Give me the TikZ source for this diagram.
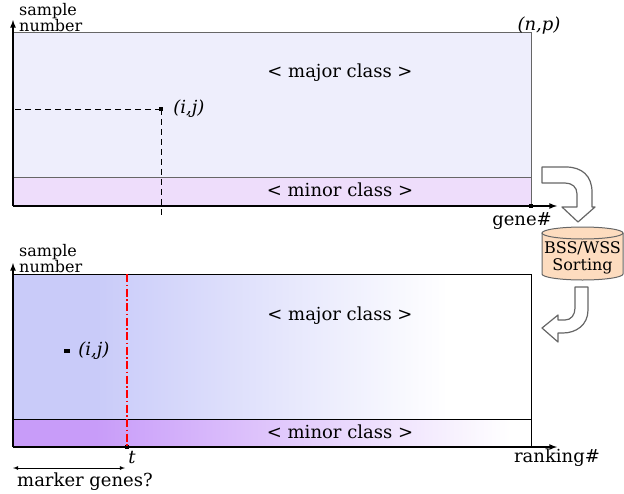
\documentclass[tikz,border=0pt]{standalone}
\usepackage{fontspec}
\setmainfont{DejaVu Serif}
\usepackage{tikz}
\usetikzlibrary{positioning,calc}
\definecolor{majorfill}{HTML}{EEEEFC}
\definecolor{minorfill}{HTML}{EEDDFB}
\definecolor{majorleft}{HTML}{C9CBF9}
\definecolor{minorleft}{HTML}{C89CF9}
\definecolor{panelgray}{HTML}{666666}
\definecolor{peach}{HTML}{FDDCBF}
\definecolor{cutred}{HTML}{FF0000}
\pgfdeclarehorizontalshading{majorfade}{100bp}{color(0bp)=(majorleft); color(33bp)=(majorleft); color(67bp)=(white); color(100bp)=(white)}
\pgfdeclarehorizontalshading{minorfade}{100bp}{color(0bp)=(minorleft); color(33bp)=(minorleft); color(73bp)=(white); color(100bp)=(white)}

\begin{document}
\begin{tikzpicture}[
    x=1pt, y=-1pt,
    lbl/.style={font=\fontsize{18}{17}\selectfont, inner sep=0pt},
    small/.style={font=\fontsize{16}{12}\selectfont, inner sep=0pt},
    panel/.style={rectangle, minimum width=518pt, inner sep=0pt, outer sep=0pt},
    axisline/.style={->, >=latex, line width=1.6pt},
    guide/.style={dash pattern=on 6pt off 4pt, line width=0.8pt},
    cutline/.style={draw=cutred, line width=1.1pt, dash pattern=on 8pt off 2.5pt on 1.5pt off 2.5pt},
    dot/.style={rectangle, fill=black, inner sep=0pt, minimum width=4pt, minimum height=4pt},
    blockarrow/.style={fill=white, draw=gray!80!black, line width=1.2pt, line join=round}
]
    \useasboundingbox (0,0) rectangle (624,493);

    \node[panel, minimum height=145pt, fill=majorfill, draw=panelgray, line width=1pt] (major1) at (272,104.5) {};
    \node[panel, minimum height=29pt, fill=minorfill, draw=panelgray, line width=1pt] (minor1) at (272,191.5) {};
    \node[lbl, anchor=base] (maj1) at (340,77) {< major class >};
    \node[lbl, anchor=base] (min1) at (340,196) {< minor class >};

    \node[dot] (pij1) at (161,109) {};
    \node[lbl, right=10pt of pij1] (ij1) {\textit{(i,j)}};
    \coordinate (d1) at (161,217);
    \draw[guide] (pij1.center) -- (pij1 -| major1.west);
    \draw[guide] (pij1.center) -- (d1);

    \coordinate (ytip1) at (13,20);
    \coordinate (xtip1) at (557,206);
    \draw[axisline] (minor1.south west) -- (ytip1);
    \draw[axisline] (minor1.south west) -- (xtip1);
    \node[dot] (np) at (minor1.south east) {};
    \node[small, anchor=base west] (ylab1) at (19,15) {sample};
    \node[small, anchor=base west] (ylab1b) at (19,31) {number};
    \node[lbl, anchor=base] (npl) at (539,30) {\textit{(n,p)}};
    \node[lbl, anchor=base] (gene) at (522,225) {gene\#};

    \draw[blockarrow] (542,167) -- (566,167) .. controls (582,167) and (592,176) .. (592,192)
        -- (592,207) -- (595,207) -- (578,222) -- (562,207) -- (577,207) -- (577,194)
        .. controls (577,187) and (572,183) .. (565,183) -- (542,183) -- cycle;

    \fill[peach] (542,233) -- (542,274) arc[start angle=180, end angle=0, x radius=40.5, y radius=6] -- (623,233) -- cycle;
    \draw[gray!80!black, line width=1pt] (542,233) -- (542,274) arc[start angle=180, end angle=0, x radius=40.5, y radius=6] -- (623,233);
    \draw[gray!80!black, line width=1pt, fill=peach] (582.5,233) ellipse [x radius=40.5, y radius=6];
    \node[lbl, font=\fontsize{16}{17}\selectfont, align=center] (sort) at (582.5,258) {BSS/WSS\\Sorting};

    \draw[blockarrow] (575,287) -- (588,287) -- (588,310) .. controls (588,325) and (576,333) .. (563,333)
        -- (558,333) -- (558,342) -- (542,328) -- (558,315) -- (558,320) -- (565,320)
        .. controls (571,320) and (575,315) .. (575,308) -- cycle;

    \node[panel, minimum height=145pt, shade, shading=majorfade, draw=black, line width=0.8pt] (major2) at (272,346.5) {};
    \node[panel, minimum height=28pt, shade, shading=minorfade, draw=black, line width=0.8pt] (minor2) at (272,433) {};
    \node[lbl, anchor=base] (maj2) at (340,320) {< major class >};
    \node[lbl, anchor=base] (min2) at (340,438) {< minor class >};

    \coordinate (cut) at (127,274);
    \node[dot] (tdot) at (127,447) {};
    \draw[cutline] (cut) -- (tdot.center);
    \node[lbl, anchor=base] (tl) at (132,463) {\textit{t}};

    \node[dot, minimum width=6pt] (pij2) at (67,351) {};
    \node[lbl, right=8pt of pij2] (ij2) {\textit{(i,j)}};

    \coordinate (ytip2) at (13,263);
    \coordinate (xtip2) at (557,447);
    \draw[axisline] (minor2.south west) -- (ytip2);
    \draw[axisline] (minor2.south west) -- (xtip2);
    \node[small, anchor=base west] (ylab2) at (19,256) {sample};
    \node[small, anchor=base west] (ylab2b) at (19,272) {number};
    \node[lbl, anchor=base] (rank) at (557,462) {ranking\#};

    \coordinate (m1) at (13,468);
    \coordinate (m2) at (125,468);
    \draw[<->, >=latex, line width=0.8pt] (m1) -- (m2);
    \node[lbl, anchor=base] (mk) at (85,486) {marker genes?};
\end{tikzpicture}
\end{document}
